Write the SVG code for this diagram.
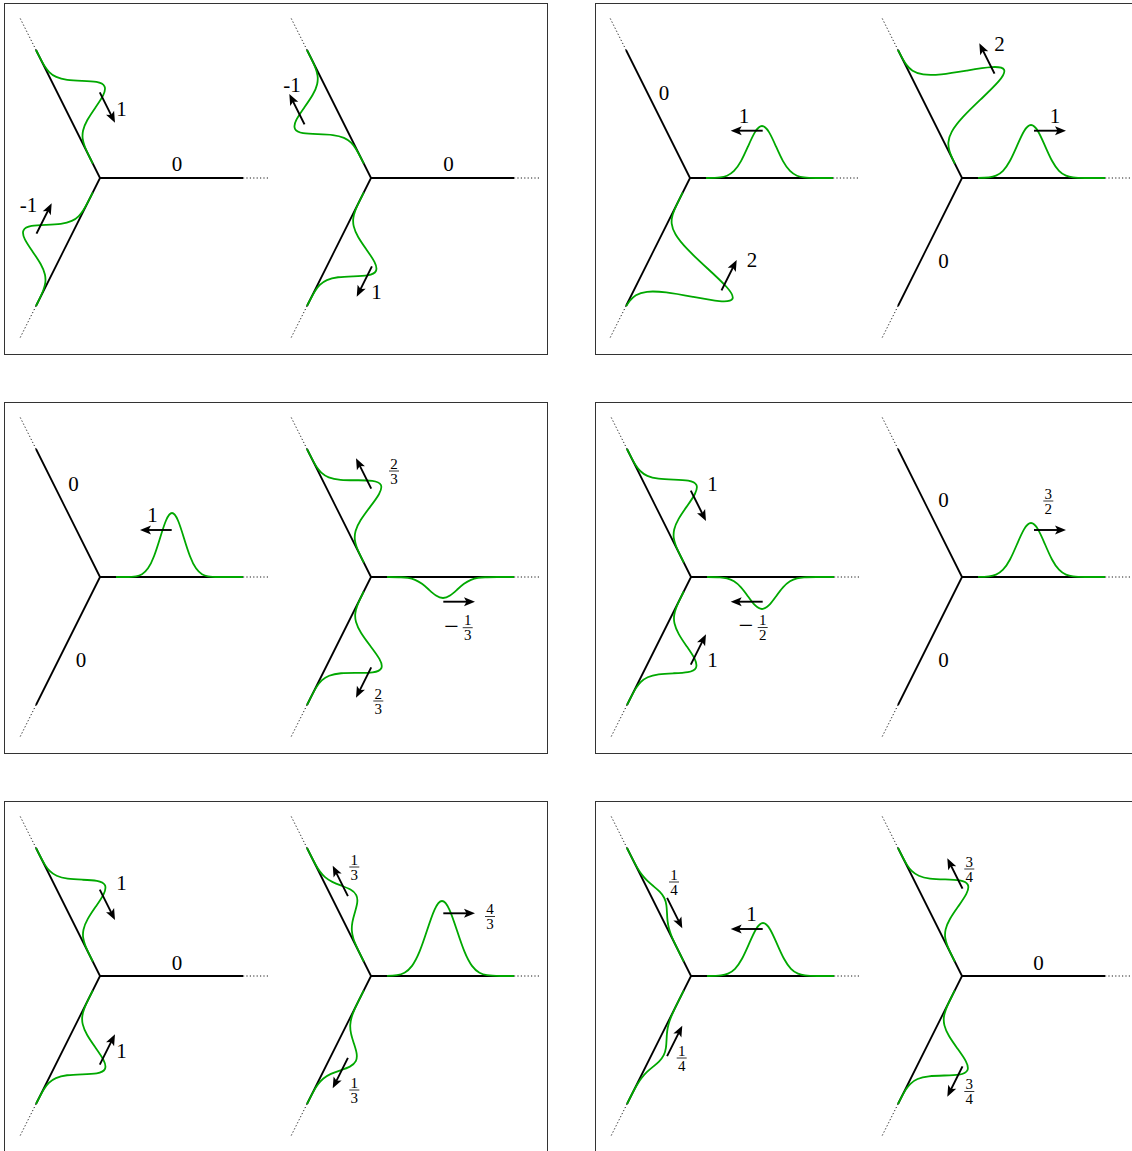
<svg xmlns="http://www.w3.org/2000/svg" xmlns:xlink="http://www.w3.org/1999/xlink" width="1132" height="1151" viewBox="0 0 1132 1151">
<style>
text{font-family:"Liberation Serif","DejaVu Serif",serif;font-size:21px;fill:#000;text-anchor:middle}
text.f{font-size:15px}
text.m{font-size:26px}
.frame{fill:none;stroke:#333;stroke-width:1}
.arr{fill:none;stroke:#000;stroke-width:1.9;marker-end:url(#ah)}
.bar{stroke:#000;stroke-width:0.8}
</style>
<defs>
<marker id="ah" markerUnits="userSpaceOnUse" viewBox="-7 -6 14 12" markerWidth="14" markerHeight="12" refX="0" refY="0" orient="auto">
<path d="M6,0 L-5,-4.5 L-2.5,0 L-5,4.5 Z" fill="#000"/>
</marker>
<clipPath id="ec"><rect x="16" y="-300" width="127" height="600"/></clipPath>
<g id="star">
<path d="M0,0 H143 M0,0 L-64,-128 M0,0 L-64,128" stroke="#000" stroke-width="1.8" fill="none"/>
<path d="M143,0 H168 M-64,-128 L-80,-160 M-64,128 L-80,160" stroke="#000" stroke-width="0.9" stroke-dasharray="1.2 2.2" fill="none"/>
</g>
<path id="gs" fill="none" stroke="#00a800" stroke-width="1.8" vector-effect="non-scaling-stroke" d="M-40,0 L-4,0 C-3.6667,0.0008 -3.3333,0 -3,0.0111 C-2.8333,0.0167 -2.6667,0.0256 -2.5,0.0439 C-2.3333,0.0622 -2.1667,0.0902 -2,0.1353 C-1.8333,0.1804 -1.6667,0.2435 -1.5,0.3247 C-1.3333,0.4059 -1.1667,0.5054 -1,0.6065 C-0.8333,0.7076 -0.6667,0.809 -0.5,0.8825 C-0.3333,0.956 -0.1667,1 0,1 C0.1667,1 0.3333,0.956 0.5,0.8825 C0.6667,0.809 0.8333,0.7076 1,0.6065 C1.1667,0.5054 1.3333,0.4059 1.5,0.3247 C1.6667,0.2435 1.8333,0.1804 2,0.1353 C2.1667,0.0902 2.3333,0.0622 2.5,0.0439 C2.6667,0.0256 2.8333,0.0167 3,0.0111 C3.3333,0 3.6667,0.0008 4,0 L40,0"/>
</defs>
<rect width="1132" height="1151" fill="#fff"/>
<g id="frames">
<rect class="frame" x="4.5" y="3.5" width="543" height="351"/>
<rect class="frame" x="595.5" y="3.5" width="543" height="351"/>
<rect class="frame" x="4.5" y="402.5" width="543" height="351"/>
<rect class="frame" x="595.5" y="402.5" width="543" height="351"/>
<rect class="frame" x="4.5" y="801.5" width="543" height="351"/>
<rect class="frame" x="595.5" y="801.5" width="543" height="351"/>
</g>

<g id="star-a">
<g transform="translate(100,178)">
<use href="#star"/>
<g transform="rotate(-116.565)" clip-path="url(#ec)"><use href="#gs" transform="translate(80,0) scale(15,45)"/></g>
<g transform="rotate(116.565) scale(1,-1)" clip-path="url(#ec)"><use href="#gs" transform="translate(81,0) scale(15,-45)"/></g>
</g>
<text x="121.5" y="116">1</text>
<text x="28.5" y="212">-1</text>
<text x="177" y="171">0</text>
</g>

<g id="star-b">
<g transform="translate(371,178)">
<use href="#star"/>
<g transform="rotate(-116.565)" clip-path="url(#ec)"><use href="#gs" transform="translate(78,0) scale(15,-46)"/></g>
<g transform="rotate(116.565) scale(1,-1)" clip-path="url(#ec)"><use href="#gs" transform="translate(81,0) scale(15,46)"/></g>
</g>
<text x="292" y="92">-1</text>
<text x="376.5" y="299">1</text>
<text x="448.5" y="171">0</text>
</g>

<g id="star-c">
<g transform="translate(690,178)">
<use href="#star"/>
<g transform="scale(1,-1)" clip-path="url(#ec)"><use href="#gs" transform="translate(72,0) scale(14,52)"/></g>
<g transform="rotate(116.565) scale(1,-1)" clip-path="url(#ec)"><use href="#gs" transform="translate(89,0) scale(16,92)"/></g>
</g>
<text x="664" y="100">0</text>
<text x="744" y="123">1</text>
<text x="752" y="267">2</text>
</g>

<g id="star-d">
<g transform="translate(962,178)">
<use href="#star"/>
<g transform="scale(1,-1)" clip-path="url(#ec)"><use href="#gs" transform="translate(69,0) scale(14,53)"/></g>
<g transform="rotate(-116.565)" clip-path="url(#ec)"><use href="#gs" transform="translate(78,0) scale(16,86)"/></g>
</g>
<text x="999.5" y="51">2</text>
<text x="1055" y="123">1</text>
<text x="943.5" y="268">0</text>
</g>

<g id="star-e">
<g transform="translate(100,577)">
<use href="#star"/>
<g transform="scale(1,-1)" clip-path="url(#ec)"><use href="#gs" transform="translate(72,0) scale(12,64)"/></g>
</g>
<text x="152.5" y="522">1</text>
<text x="73.5" y="491">0</text>
<text x="81" y="667">0</text>
</g>

<g id="star-f">
<g transform="translate(371,577)">
<use href="#star"/>
<g transform="rotate(-116.565)" clip-path="url(#ec)"><use href="#gs" transform="translate(78,0) scale(15,50)"/></g>
<g transform="rotate(116.565) scale(1,-1)" clip-path="url(#ec)"><use href="#gs" transform="translate(77,0) scale(15,50)"/></g>
<g transform="scale(1,-1)" clip-path="url(#ec)"><use href="#gs" transform="translate(72,0) scale(14,-21)"/></g>
</g>
<text class="f" x="394" y="468.5">2</text><line class="bar" x1="389" y1="471" x2="399" y2="471"/><text class="f" x="394" y="483.6">3</text>
<text class="f" x="378.3" y="698.5">2</text><line class="bar" x1="373.3" y1="701" x2="383.3" y2="701"/><text class="f" x="378.3" y="713.6">3</text>
<text class="m" x="451.5" y="634.5">−</text>
<text class="f" x="467.7" y="625.2">1</text><line class="bar" x1="462.7" y1="627.7" x2="472.7" y2="627.7"/><text class="f" x="467.7" y="640.3">3</text>
</g>

<g id="star-g">
<g transform="translate(691,577)">
<use href="#star"/>
<g transform="rotate(-116.565)" clip-path="url(#ec)"><use href="#gs" transform="translate(80,0) scale(15,46)"/></g>
<g transform="rotate(116.565) scale(1,-1)" clip-path="url(#ec)"><use href="#gs" transform="translate(79,0) scale(15,45)"/></g>
<g transform="scale(1,-1)" clip-path="url(#ec)"><use href="#gs" transform="translate(71,0) scale(14,-32)"/></g>
</g>
<text x="712.5" y="491">1</text>
<text x="712.5" y="667">1</text>
<text class="m" x="746" y="634.3">−</text>
<text class="f" x="762.7" y="625">1</text><line class="bar" x1="757.7" y1="627.5" x2="767.7" y2="627.5"/><text class="f" x="762.7" y="640.1">2</text>
</g>

<g id="star-h">
<g transform="translate(962,577)">
<use href="#star"/>
<g transform="scale(1,-1)" clip-path="url(#ec)"><use href="#gs" transform="translate(69,0) scale(14,54)"/></g>
</g>
<text class="f" x="1048.3" y="498.5">3</text><line class="bar" x1="1043.3" y1="501" x2="1053.3" y2="501"/><text class="f" x="1048.3" y="513.6">2</text>
<text x="943.5" y="507">0</text>
<text x="943.5" y="667">0</text>
</g>

<g id="star-i">
<g transform="translate(100,976)">
<use href="#star"/>
<g transform="rotate(-116.565)" clip-path="url(#ec)"><use href="#gs" transform="translate(79,0) scale(15,45)"/></g>
<g transform="rotate(116.565) scale(1,-1)" clip-path="url(#ec)"><use href="#gs" transform="translate(81,0) scale(15,46)"/></g>
</g>
<text x="121.5" y="890">1</text>
<text x="121.5" y="1058">1</text>
<text x="177" y="970">0</text>
</g>

<g id="star-j">
<g transform="translate(371,976)">
<use href="#star"/>
<g transform="rotate(-116.565)" clip-path="url(#ec)"><use href="#gs" transform="translate(79,0) scale(15,23)"/></g>
<g transform="rotate(116.565) scale(1,-1)" clip-path="url(#ec)"><use href="#gs" transform="translate(83,0) scale(15,24.5)"/></g>
<g transform="scale(1,-1)" clip-path="url(#ec)"><use href="#gs" transform="translate(71,0) scale(15,75)"/></g>
</g>
<text class="f" x="354.3" y="864.5">1</text><line class="bar" x1="349.3" y1="867" x2="359.3" y2="867"/><text class="f" x="354.3" y="879.6">3</text>
<text class="f" x="354.3" y="1087.5">1</text><line class="bar" x1="349.3" y1="1090" x2="359.3" y2="1090"/><text class="f" x="354.3" y="1102.6">3</text>
<text class="f" x="490" y="914">4</text><line class="bar" x1="485" y1="916.5" x2="495" y2="916.5"/><text class="f" x="490" y="929.1">3</text>
</g>

<g id="star-k">
<g transform="translate(691,976)">
<use href="#star"/>
<g transform="rotate(-116.565)" clip-path="url(#ec)"><use href="#gs" transform="translate(82,0) scale(15,11)"/></g>
<g transform="rotate(116.565) scale(1,-1)" clip-path="url(#ec)"><use href="#gs" transform="translate(83,0) scale(15,11)"/></g>
<g transform="scale(1,-1)" clip-path="url(#ec)"><use href="#gs" transform="translate(72,0) scale(14,53)"/></g>
</g>
<text class="f" x="674" y="879.5">1</text><line class="bar" x1="669" y1="882" x2="679" y2="882"/><text class="f" x="674" y="894.6">4</text>
<text class="f" x="681.7" y="1055.5">1</text><line class="bar" x1="676.7" y1="1058" x2="686.7" y2="1058"/><text class="f" x="681.7" y="1070.6">4</text>
<text x="751.5" y="921">1</text>
</g>

<g id="star-l">
<g transform="translate(962,976)">
<use href="#star"/>
<g transform="rotate(-116.565)" clip-path="url(#ec)"><use href="#gs" transform="translate(79,0) scale(15,46)"/></g>
<g transform="rotate(116.565) scale(1,-1)" clip-path="url(#ec)"><use href="#gs" transform="translate(82,0) scale(15,47)"/></g>
</g>
<text class="f" x="969.3" y="866.5">3</text><line class="bar" x1="964.3" y1="869" x2="974.3" y2="869"/><text class="f" x="969.3" y="881.6">4</text>
<text class="f" x="969.3" y="1089">3</text><line class="bar" x1="964.3" y1="1091.5" x2="974.3" y2="1091.5"/><text class="f" x="969.3" y="1104.1">4</text>
<text x="1038.5" y="970">0</text>
</g>

<g id="connectors">
<path class="arr" d="M99.8,92.3 L112.3,117.3"/>
<path class="arr" d="M36.5,233.7 L49,208.7"/>
<path class="arr" d="M304.5,124.4 L292,99.4"/>
<path class="arr" d="M371.9,266.3 L359.4,291.3"/>
<path class="arr" d="M762.7,130.7 L736.7,130.7"/>
<path class="arr" d="M721.5,290.4 L734,265.4"/>
<path class="arr" d="M994.5,73.7 L982,48.7"/>
<path class="arr" d="M1034,130.7 L1060,130.7"/>
<path class="arr" d="M171.7,530 L146,530"/>
<path class="arr" d="M371.2,488.7 L358.7,463.7"/>
<path class="arr" d="M371.2,667.3 L358.7,692.3"/>
<path class="arr" d="M443.3,601.7 L469,601.7"/>
<path class="arr" d="M690.8,490.6 L703.3,515.6"/>
<path class="arr" d="M690.8,664.7 L703.3,639.7"/>
<path class="arr" d="M762.7,601.7 L736.7,601.7"/>
<path class="arr" d="M1034,530 L1060,530"/>
<path class="arr" d="M99.8,889.6 L112.3,914.6"/>
<path class="arr" d="M99.8,1064.7 L112.3,1039.7"/>
<path class="arr" d="M347.9,896.1 L335.4,871.1"/>
<path class="arr" d="M347.9,1057.9 L335.4,1082.9"/>
<path class="arr" d="M443.3,913.3 L469,913.3"/>
<path class="arr" d="M667.1,897.9 L679.6,922.9"/>
<path class="arr" d="M667.1,1056.1 L679.6,1031.1"/>
<path class="arr" d="M762.7,929 L736.7,929"/>
<path class="arr" d="M962.5,888.7 L950,863.7"/>
<path class="arr" d="M962.5,1066.3 L950,1091.3"/>
</g>
</svg>
